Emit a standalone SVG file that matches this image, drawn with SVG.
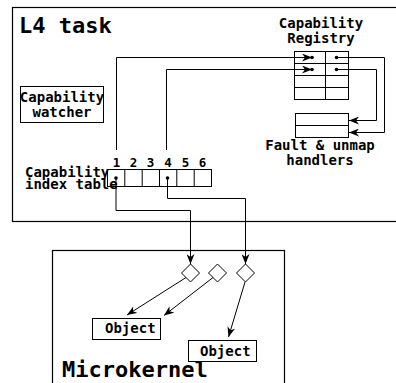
<svg xmlns="http://www.w3.org/2000/svg" width="396" height="383" viewBox="0 0 396 383">
<defs>
<marker id="ah" markerWidth="10" markerHeight="8" viewBox="0 0 10 8" refX="10" refY="4" orient="auto" markerUnits="userSpaceOnUse">
<path d="M0,0 L10,4 L0,8 L3,4 Z" fill="#000"/>
</marker>
<style>
text{font-family:"DejaVu Sans Mono","Liberation Mono",monospace;font-weight:bold;fill:#000}
.big{font-size:22px}
.lbl{font-size:14px;text-anchor:middle}
.num{font-size:12.5px;text-anchor:middle}
.box{fill:#fff;stroke:#000;stroke-width:1}
.frame{fill:none;stroke:#000;stroke-width:1.2}
.conn{fill:none;stroke:#000;stroke-width:1}
.arr{marker-end:url(#ah)}
</style>
</defs>
<rect width="396" height="383" fill="#fff"/>

<g id="l4task">
<rect class="frame" x="12.5" y="7.5" width="400" height="214"/>
<text class="big" x="19" y="33">L4 task</text>
</g>

<g id="microkernel">
<rect class="frame" x="52.5" y="250.5" width="232" height="150"/>
<text class="big" x="62" y="377">Microkernel</text>
</g>

<g id="watcher">
<rect class="box" x="20.5" y="86.5" width="83" height="36"/>
<text class="lbl" x="62" y="102">Capability</text>
<text class="lbl" x="62" y="117">watcher</text>
</g>

<g id="registry">
<text class="lbl" x="321" y="27.5">Capability</text>
<text class="lbl" x="321" y="42.5">Registry</text>
<rect class="box" x="294.5" y="51.5" width="54" height="48"/>
<path class="conn" d="M294.5,63.5H348.5M294.5,75.5H348.5M294.5,87.5H348.5M325.5,51.5V99.5"/>
</g>

<g id="handlers">
<rect class="box" x="295.5" y="113.5" width="53" height="24"/>
<path class="conn" d="M295.5,125.5H348.5"/>
<text class="lbl" x="320" y="150">Fault &amp; unmap</text>
<text class="lbl" x="320" y="164.5">handlers</text>
</g>

<g id="index-table">
<text x="25" y="176.5" style="font-size:14px">Capability</text>
<text x="25" y="189" style="font-size:14px">index table</text>
<rect class="box" x="107.5" y="169.5" width="104" height="17" style="fill:none"/>
<path class="conn" d="M124.8,169.5V186.5M142.2,169.5V186.5M159.5,169.5V186.5M176.8,169.5V186.5M194.2,169.5V186.5"/>
<text class="num" x="116.5" y="166.5">1</text>
<text class="num" x="133.5" y="166.5">2</text>
<text class="num" x="150.5" y="166.5">3</text>
<text class="num" x="168" y="166.5">4</text>
<text class="num" x="185.5" y="166.5">5</text>
<text class="num" x="202.5" y="166.5">6</text>
</g>

<g id="diamonds">
<path class="box" d="M190.5,264L199.5,273L190.5,282L181.5,273Z"/>
<path class="box" d="M217.5,264L226.5,273L217.5,282L208.5,273Z"/>
<path class="box" d="M245.5,264L254.5,273L245.5,282L236.5,273Z"/>
</g>

<g id="object1">
<rect class="box" x="92.5" y="318.5" width="68" height="21"/>
<text x="105" y="333" style="font-size:14px">Object</text>
</g>

<g id="object2">
<rect class="box" x="188.5" y="340.5" width="68" height="21"/>
<text x="200" y="355.5" style="font-size:14px">Object</text>
</g>

<g id="connectors">
<path class="conn arr" d="M116.5,150V57.5H312"/>
<path class="conn arr" d="M166.5,150V69.5H312"/>
<circle cx="312" cy="57.5" r="1.8"/>
<circle cx="312" cy="69.5" r="1.8"/>
<circle cx="336.5" cy="57.5" r="1.8"/>
<circle cx="336.5" cy="69.5" r="1.8"/>
<path class="conn arr" d="M336.5,57.5H384.5V132.5H349"/>
<path class="conn arr" d="M336.5,69.5H376.5V120.5H349"/>
<circle cx="116" cy="178" r="1.8"/>
<circle cx="167.5" cy="178" r="1.8"/>
<path class="conn arr" d="M116,178V210.5H190.5V264"/>
<path class="conn arr" d="M167.5,178V198.5H245.5V264"/>
<path class="conn arr" d="M186,277.5L127,315"/>
<path class="conn arr" d="M213,277.5L164,315.5"/>
<path class="conn arr" d="M245,282L228.5,337"/>
</g>
</svg>
